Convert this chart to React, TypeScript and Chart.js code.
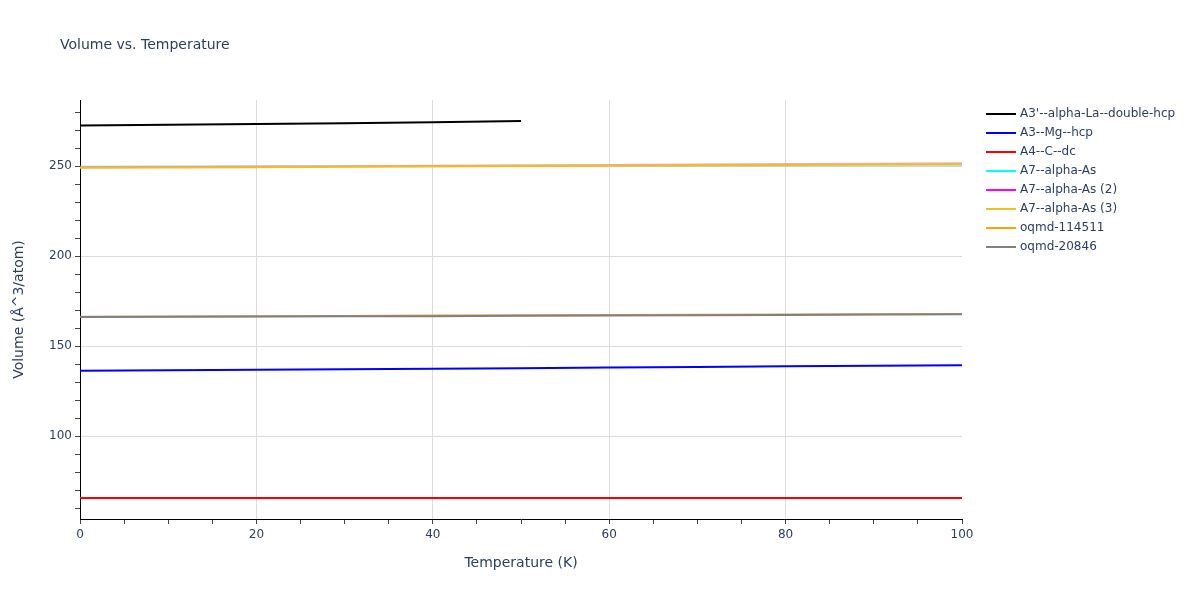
import React, { useEffect, useRef } from "react";
import { Chart, registerables } from "chart.js";

Chart.register(...registerables);

const temps = [0, 10, 20, 30, 40, 50, 60, 70, 80, 90, 100];
const tempsShort = [0, 10, 20, 30, 40, 50];

const seriesNames = [
  "A3'--alpha-La--double-hcp",
  "A3--Mg--hcp",
  "A4--C--dc",
  "A7--alpha-As",
  "A7--alpha-As (2)",
  "A7--alpha-As (3)",
  "oqmd-114511",
  "oqmd-20846",
];
const seriesColors = ["#000000", "#0000ff", "#ff0000", "#00ffff", "#ff00ff", "#f0c020", "#ffa500", "#808080"];
const lineColors = ["#000000", "#0000ff", "#ff0000", "rgba(120,200,220,0.45)", "rgba(235,110,170,0.6)", "#f0bf1c", "#e8a040", "#808080"];

const laDoubleHcp = [272.6, 272.9, 273.3, 273.8, 274.4, 275.1];
const mgHcp = [136.2, 136.5, 136.8, 137.1, 137.4, 137.7, 138.1, 138.4, 138.7, 139.0, 139.3];
const cDc = [65.5, 65.5, 65.5, 65.5, 65.5, 65.5, 65.5, 65.5, 65.5, 65.5, 65.5];
const alphaAs = [249.8, 249.85, 249.9, 249.95, 250.0, 250.05, 250.1, 250.15, 250.2, 250.25, 250.3];
const alphaAs2 = [249.3, 249.5, 249.7, 249.9, 250.1, 250.4, 250.6, 250.8, 251.1, 251.3, 251.6];
const alphaAs3 = [249.0, 249.2, 249.4, 249.6, 249.8, 250.0, 250.2, 250.4, 250.6, 250.8, 251.0];
const oqmd114511 = [166.3, 166.4, 166.5, 166.7, 166.9, 167.1, 167.3, 167.4, 167.5, 167.7, 167.8];
const oqmd20846 = [166.2, 166.3, 166.4, 166.5, 166.6, 166.8, 167.0, 167.1, 167.3, 167.5, 167.7];

const seriesValues = [laDoubleHcp, mgHcp, cDc, alphaAs, alphaAs2, alphaAs3, oqmd114511, oqmd20846];
const seriesX = [tempsShort, temps, temps, temps, temps, temps, temps, temps];

const xTicks = [0, 5, 10, 15, 20, 25, 30, 35, 40, 45, 50, 55, 60, 65, 70, 75, 80, 85, 90, 95, 100];
const yTicks = [60, 70, 80, 90, 100, 110, 120, 130, 140, 150, 160, 170, 180, 190, 200, 210, 220, 230, 240, 250, 260, 270, 280];

const FONT = '"DejaVu Sans", verdana, arial, sans-serif';
const TEXT = "#2a3f5f";

const overlayPlugin = {
  id: "overlay",
  afterDraw(chart: any) {
    const ctx = chart.ctx;
    ctx.save();
    ctx.fillStyle = TEXT;
    ctx.font = `14px ${FONT}`;
    ctx.textBaseline = "middle";
    ctx.textAlign = "left";
    ctx.fillText("Volume vs. Temperature", 60, 45);
    ctx.font = `12px ${FONT}`;
    seriesNames.forEach((name, i) => {
      const y = 114 + i * 19;
      ctx.strokeStyle = seriesColors[i];
      ctx.lineWidth = 2;
      ctx.beginPath();
      ctx.moveTo(986, y);
      ctx.lineTo(1016, y);
      ctx.stroke();
      ctx.fillStyle = TEXT;
      ctx.fillText(name, 1020, y);
    });
    ctx.restore();
  },
};

export default function App() {
  const ref = useRef<HTMLCanvasElement>(null);
  useEffect(() => {
    if (!ref.current) return;
    const n = seriesNames.length;
    const chart = new Chart(ref.current, {
      type: "line",
      data: {
        datasets: seriesNames.map((name, i) => ({
          label: name,
          data: seriesX[i].map((x, j) => ({ x, y: seriesValues[i][j] })),
          borderColor: lineColors[i],
          backgroundColor: lineColors[i],
          borderWidth: 2,
          pointRadius: 0,
          tension: 0,
          order: n - 1 - i,
        })),
      },
      options: {
        responsive: false,
        animation: false,
        layout: { padding: { top: 100, right: 238, left: 0, bottom: 0 } },
        plugins: { legend: { display: false }, title: { display: false }, tooltip: { enabled: false } },
        scales: {
          x: {
            type: "linear",
            min: 0,
            max: 100,
            afterBuildTicks: (s: any) => {
              s.ticks = xTicks.map((v) => ({ value: v }));
            },
            afterFit: (s: any) => {
              s.height = 81;
            },
            ticks: {
              autoSkip: false,
              maxRotation: 0,
              padding: 4,
              color: TEXT,
              font: { family: FONT, size: 12 },
              callback: (v: any) => (Number(v) % 20 === 0 ? String(v) : ""),
            },
            grid: {
              color: (c: any) => {
                const v = c.tick ? c.tick.value : 0;
                return v % 20 === 0 && v > 0 && v < 100 ? "#dcdcdc" : "rgba(0,0,0,0)";
              },
              tickColor: "#444",
              tickLength: 5,
              lineWidth: 1,
            },
            border: { display: true, color: "#000", width: 1 },
            title: {
              display: true,
              text: "Temperature (K)",
              color: TEXT,
              font: { family: FONT, size: 14 },
              padding: { top: 0, bottom: 28 },
            },
          },
          y: {
            type: "linear",
            min: 53.9,
            max: 286.7,
            afterBuildTicks: (s: any) => {
              s.ticks = yTicks.map((v) => ({ value: v }));
            },
            afterFit: (s: any) => {
              s.width = 80;
            },
            ticks: {
              autoSkip: false,
              padding: 3,
              color: TEXT,
              font: { family: FONT, size: 12 },
              callback: (v: any) => (Number(v) % 50 === 0 ? String(v) : ""),
            },
            grid: {
              color: (c: any) => {
                const v = c.tick ? c.tick.value : 0;
                return v % 50 === 0 ? "#dcdcdc" : "rgba(0,0,0,0)";
              },
              tickColor: "#444",
              tickLength: 5,
              lineWidth: 1,
            },
            border: { display: true, color: "#000", width: 1 },
            title: {
              display: true,
              text: "Volume (Å^3/atom)",
              color: TEXT,
              font: { family: FONT, size: 14 },
              padding: { top: 11, bottom: 0 },
            },
          },
        },
      },
      plugins: [overlayPlugin],
    });
    return () => chart.destroy();
  }, []);
  return (
    <div style={{ position: "fixed", left: 0, top: 0, width: 1200, height: 600, background: "#fff" }}>
      <canvas ref={ref} width={1200} height={600} />
    </div>
  );
}
